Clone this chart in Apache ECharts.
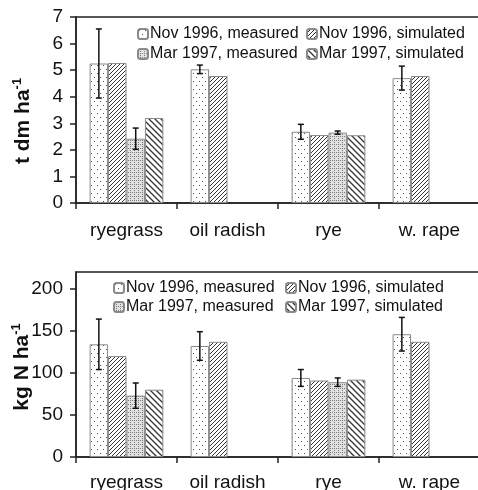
<!DOCTYPE html>
<html>
<head>
<meta charset="utf-8">
<script src="https://cdn.jsdelivr.net/npm/echarts@6/dist/echarts.min.js"></script>
<style>html,body{margin:0;padding:0;background:#fff}#c{width:478px;height:490px}</style>
</head>
<body>
<div id="c"></div>
<script>
// ---- data ----
const categories = ['ryegrass', 'oil radish', 'rye', 'w. rape'];
const seriesNames = ['Nov 1996, measured', 'Nov 1996, simulated', 'Mar 1997, measured', 'Mar 1997, simulated'];
// dry matter (t dm ha-1)
const dmNovMeasured = [5.25, 5.03, 2.68, 4.70];
const dmNovMeasuredErr = [1.3, 0.16, 0.28, 0.45];
const dmNovSimulated = [5.27, 4.78, 2.56, 4.78];
const dmMarMeasured = [2.42, null, 2.65, null];
const dmMarMeasuredErr = [0.4, null, 0.06, null];
const dmMarSimulated = [3.20, null, 2.55, null];
// nitrogen (kg N ha-1)
const nNovMeasured = [134, 132, 94, 146];
const nNovMeasuredErr = [30, 17, 10, 20];
const nNovSimulated = [120, 137, 91, 137];
const nMarMeasured = [73, null, 89, null];
const nMarMeasuredErr = [15, null, 5, null];
const nMarSimulated = [80, null, 92, null];
const dmTicks = [0, 1, 2, 3, 4, 5, 6, 7];
const nTicks = [0, 50, 100, 150, 200];

// ---- patterns ----
function pat(w, h, bg, draw) {
  const c = document.createElement('canvas');
  c.width = w; c.height = h;
  const g = c.getContext('2d');
  g.fillStyle = bg; g.fillRect(0, 0, w, h);
  draw(g, w, h);
  return { image: c, repeat: 'repeat' };
}
const pNovMeas = pat(6, 8, '#ffffff', (g) => {
  g.fillStyle = '#555'; g.fillRect(1, 1, 1, 1); g.fillRect(4, 5, 1, 1);
});
const pMarMeas = pat(4, 4, '#e2e2e2', (g) => {
  g.fillStyle = '#7a7a7a'; g.fillRect(0, 0, 1, 1); g.fillRect(2, 2, 1, 1); g.fillRect(2, 0, 1, 1);
});
const pNovSim = pat(4, 4, '#ffffff', (g) => {
  g.strokeStyle = '#333'; g.lineWidth = 1;
  g.beginPath();
  g.moveTo(0, 4); g.lineTo(4, 0);
  g.moveTo(-1, 1); g.lineTo(1, -1);
  g.moveTo(3, 5); g.lineTo(5, 3);
  g.stroke();
});
const pMarSim = pat(6, 6, '#ffffff', (g) => {
  g.strokeStyle = '#333'; g.lineWidth = 1.3;
  g.beginPath();
  g.moveTo(0, 0); g.lineTo(6, 6);
  g.moveTo(-1, 5); g.lineTo(1, 7);
  g.moveTo(5, -1); g.lineTo(7, 1);
  g.stroke();
});
const patterns = [pNovMeas, pNovSim, pMarMeas, pMarSim];

const FONT = 'Liberation Sans, Arial, sans-serif';
const CAT_GAP = 0.27;

function errSeries(gridIdx, slot, vals, errs) {
  return {
    type: 'custom',
    xAxisIndex: gridIdx, yAxisIndex: gridIdx,
    silent: true, z: 10,
    data: vals.map((v, i) => v == null ? null : [i, v, errs[i]]).filter(d => d),
    encode: { x: 0, y: 1 },
    renderItem: function (params, api) {
      const ci = api.value(0), v = api.value(1), e = api.value(2);
      const band = api.size([1, 0])[0];
      const bw = band * (1 - CAT_GAP) / 4;
      const base = api.coord([ci, v]);
      const x = base[0] - band * (1 - CAT_GAP) / 2 + bw * (slot + 0.5);
      const yHi = api.coord([ci, v + e])[1];
      const yLo = api.coord([ci, v - e])[1];
      const st = { stroke: '#111', lineWidth: 1.5 };
      return {
        type: 'group',
        children: [
          { type: 'line', shape: { x1: x, y1: yHi, x2: x, y2: yLo }, style: st },
          { type: 'line', shape: { x1: x - 3, y1: yHi, x2: x + 3, y2: yHi }, style: st },
          { type: 'line', shape: { x1: x - 3, y1: yLo, x2: x + 3, y2: yLo }, style: st }
        ]
      };
    }
  };
}

function barSeries(gridIdx, idx, vals) {
  return {
    type: 'bar', name: seriesNames[idx],
    xAxisIndex: gridIdx, yAxisIndex: gridIdx,
    data: vals.map(v => v == null ? '-' : v),
    barGap: '0%', barCategoryGap: (CAT_GAP * 100) + '%',
    itemStyle: { color: patterns[idx], borderColor: '#8a8a8a', borderWidth: 1 },
    emphasis: { disabled: true }
  };
}

function legendItem(name, left, top) {
  return {
    left: left, top: top, data: [name],
    itemWidth: 10, itemHeight: 10, itemGap: 0,
    selectedMode: false,
    textStyle: { fontFamily: FONT, fontSize: 16, color: '#111', padding: [0, 0, 0, -3] },
    padding: 0
  };
}

const axisLineStyle = { color: '#222', width: 1.5 };

function xAxis(gridIdx, margin) {
  return {
    type: 'category', gridIndex: gridIdx, data: categories,
    axisLine: { lineStyle: axisLineStyle },
    axisTick: { show: true, alignWithLabel: false, length: 6, lineStyle: axisLineStyle },
    axisLabel: { fontFamily: FONT, fontSize: 19, color: '#111', margin: margin, interval: 0 },
    splitLine: { show: false }
  };
}

function yAxis(gridIdx, max, interval, ticks, nameMain, nameGap, shift) {
  return {
    type: 'value', gridIndex: gridIdx, min: 0, max: max, interval: interval,
    axisLine: { show: true, lineStyle: axisLineStyle },
    axisTick: { show: true, length: 6, lineStyle: axisLineStyle, customValues: ticks },
    axisLabel: { fontFamily: FONT, fontSize: 19, color: '#111', margin: 13, customValues: ticks },
    splitLine: { show: false },
    name: '{a|' + nameMain + '}{b|-1}',
    nameLocation: 'middle', nameGap: nameGap, nameRotate: 90,
    nameMoveOverlap: false,
    nameTextStyle: {
      padding: [0, shift, 0, 0],
      rich: {
        a: { fontFamily: FONT, fontSize: 21, fontWeight: 'bold', color: '#111', lineHeight: 24 },
        b: { fontFamily: FONT, fontSize: 13, fontWeight: 'bold', color: '#111', lineHeight: 24, verticalAlign: 'top' }
      }
    }
  };
}

const chart = echarts.init(document.getElementById('c'), null, { renderer: 'canvas' });
chart.setOption({
  animation: false,
  backgroundColor: '#fff',
  grid: [
    { left: 76, top: 17, right: -2, height: 186, show: true, borderColor: '#222', borderWidth: 1.5, backgroundColor: 'transparent', containLabel: false, outerBoundsMode: 'none' },
    { left: 76, top: 272, right: -2, height: 185, show: true, borderColor: '#222', borderWidth: 1.5, backgroundColor: 'transparent', containLabel: false, outerBoundsMode: 'none' }
  ],
  legend: [
    legendItem(seriesNames[0], 137, 26),
    legendItem(seriesNames[1], 306, 26),
    legendItem(seriesNames[2], 137, 46),
    legendItem(seriesNames[3], 306, 46),
    legendItem(seriesNames[0], 113, 280),
    legendItem(seriesNames[1], 285, 280),
    legendItem(seriesNames[2], 113, 299),
    legendItem(seriesNames[3], 285, 299)
  ],
  xAxis: [xAxis(0, 18), xAxis(1, 16)],
  yAxis: [
    yAxis(0, 7, 1, dmTicks, 't dm ha', 41, 22),
    yAxis(1, 220, 50, nTicks, 'kg N ha', 42, 5)
  ],
  series: [
    barSeries(0, 0, dmNovMeasured),
    barSeries(0, 1, dmNovSimulated),
    barSeries(0, 2, dmMarMeasured),
    barSeries(0, 3, dmMarSimulated),
    barSeries(1, 0, nNovMeasured),
    barSeries(1, 1, nNovSimulated),
    barSeries(1, 2, nMarMeasured),
    barSeries(1, 3, nMarSimulated),
    errSeries(0, 0, dmNovMeasured, dmNovMeasuredErr),
    errSeries(0, 2, dmMarMeasured, dmMarMeasuredErr),
    errSeries(1, 0, nNovMeasured, nNovMeasuredErr),
    errSeries(1, 2, nMarMeasured, nMarMeasuredErr)
  ]
});
</script>
</body>
</html>
